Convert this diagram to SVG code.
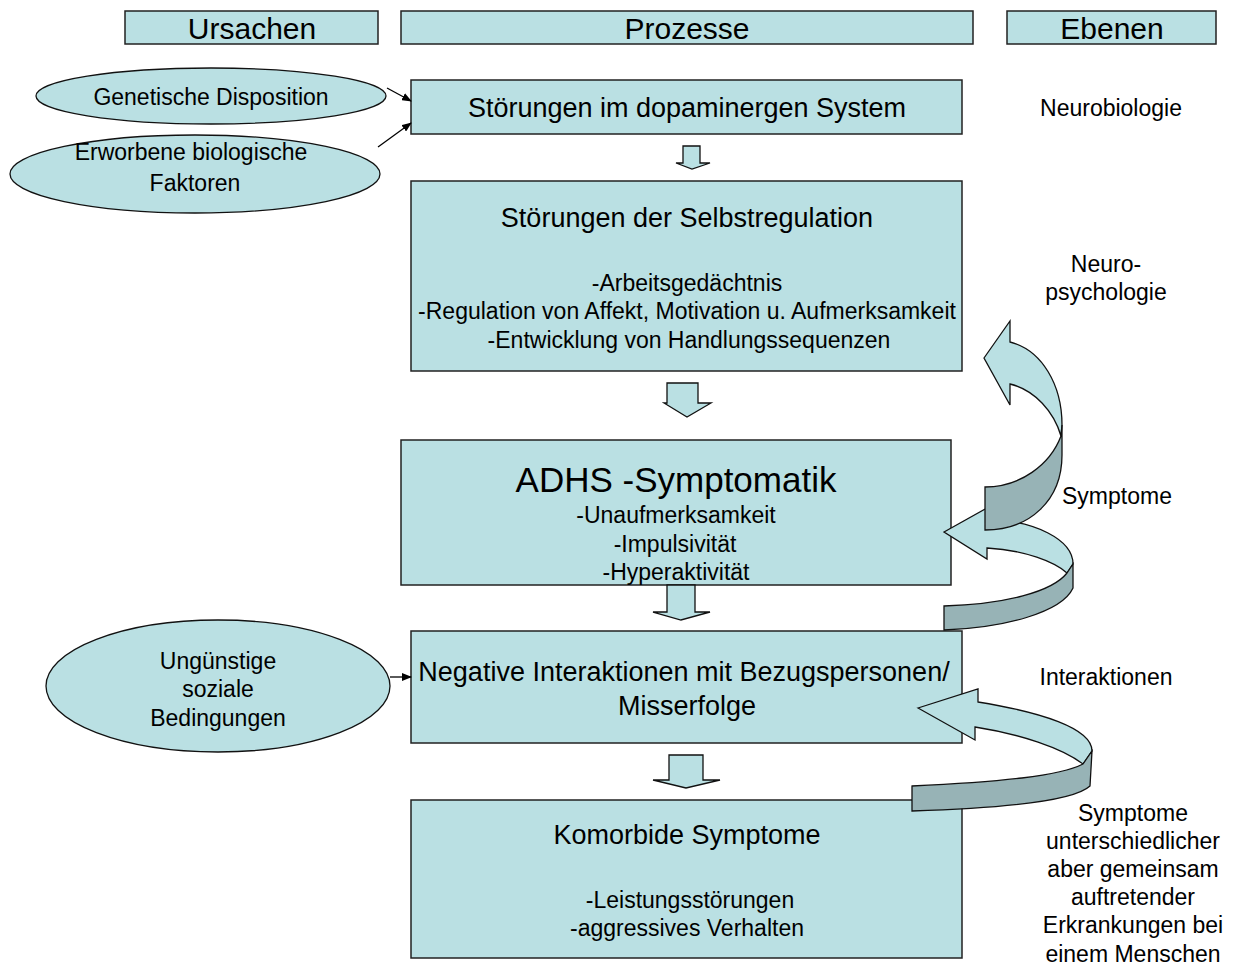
<svg xmlns="http://www.w3.org/2000/svg" width="1238" height="965" viewBox="0 0 1238 965">
<style>
text{font-family:"Liberation Sans",Arial,sans-serif;fill:#000;text-anchor:middle}
.box{fill:#bae0e3;stroke:#222;stroke-width:1.5}
.ell{fill:#bae0e3;stroke:#111;stroke-width:1.3}
.lt{fill:#bae0e3;stroke:#111;stroke-width:1.3;stroke-linejoin:miter}
.dk{fill:#97b3b6;stroke:#111;stroke-width:1.3}
.ln{stroke:#000;stroke-width:1.3;fill:none;marker-end:url(#ah)}
.h{font-size:30px}
.t{font-size:27px}
.b{font-size:23px}
</style>
<defs>
<marker id="ah" markerWidth="10" markerHeight="8" refX="9" refY="4" orient="auto" markerUnits="userSpaceOnUse">
<path d="M0,0 L10,4 L0,8 Z" fill="#000"/>
</marker>
</defs>
<g id="header-ursachen"><rect class="box" x="125" y="11" width="253" height="33"/><text class="h" x="252" y="39">Ursachen</text></g>
<g id="header-prozesse"><rect class="box" x="401" y="11" width="572" height="33"/><text class="h" x="687" y="39">Prozesse</text></g>
<g id="header-ebenen"><rect class="box" x="1007" y="11" width="209" height="33"/><text class="h" x="1112" y="39">Ebenen</text></g>

<g id="ell-genetisch"><ellipse class="ell" cx="211" cy="96" rx="175" ry="28"/><text class="b" x="211" y="105">Genetische Disposition</text></g>
<g id="ell-erworben"><ellipse class="ell" cx="195" cy="174" rx="185" ry="39"/><text class="b" x="191" y="160">Erworbene biologische</text><text class="b" x="195" y="191">Faktoren</text></g>
<g id="ell-sozial"><ellipse class="ell" cx="218" cy="686" rx="172" ry="66"/><text class="b" x="218" y="669">Ungünstige</text><text class="b" x="218" y="697">soziale</text><text class="b" x="218" y="726">Bedingungen</text></g>

<g id="box-dopamin"><rect class="box" x="411" y="80" width="551" height="54"/><text class="t" x="687" y="117">Störungen im dopaminergen System</text></g>
<g id="box-selbst"><rect class="box" x="411" y="181" width="551" height="190"/><text class="t" x="687" y="227">Störungen der Selbstregulation</text><text class="b" x="687" y="291">-Arbeitsgedächtnis</text><text class="b" x="687" y="319">-Regulation von Affekt, Motivation u. Aufmerksamkeit</text><text class="b" x="689" y="348">-Entwicklung von Handlungssequenzen</text></g>
<g id="box-adhs"><rect class="box" x="401" y="440" width="550" height="145"/><text x="676" y="492" style="font-size:35px">ADHS -Symptomatik</text><text class="b" x="676" y="523">-Unaufmerksamkeit</text><text class="b" x="675" y="552">-Impulsivität</text><text class="b" x="676" y="580">-Hyperaktivität</text></g>
<g id="box-interaktion"><rect class="box" x="411" y="631" width="551" height="112"/><text class="t" x="684" y="681">Negative Interaktionen mit Bezugspersonen/</text><text class="t" x="687" y="715">Misserfolge</text></g>
<g id="box-komorbid"><rect class="box" x="411" y="800" width="551" height="158"/><text class="t" x="687" y="844">Komorbide Symptome</text><text class="b" x="690" y="908">-Leistungsstörungen</text><text class="b" x="687" y="936">-aggressives Verhalten</text></g>

<g id="labels">
<text class="b" x="1111" y="116">Neurobiologie</text>
<text class="b" x="1106" y="272">Neuro-</text>
<text class="b" x="1106" y="300">psychologie</text>
<text class="b" x="1117" y="504">Symptome</text>
<text class="b" x="1106" y="685">Interaktionen</text>
<text class="b" x="1133" y="821">Symptome</text>
<text class="b" x="1133" y="849">unterschiedlicher</text>
<text class="b" x="1133" y="877">aber gemeinsam</text>
<text class="b" x="1133" y="905">auftretender</text>
<text class="b" x="1133" y="933">Erkrankungen bei</text>
<text class="b" x="1133" y="962">einem Menschen</text>
</g>

<g id="connectors">
<line class="ln" x1="387" y1="88" x2="411" y2="101"/>
<line class="ln" x1="378" y1="147" x2="411" y2="123"/>
<line class="ln" x1="390" y1="677" x2="411" y2="677"/>
<path class="lt" d="M683,146 L700,146 L700,163 L710,163 L692,169 L676,163 L683,163 Z"/>
<path class="lt" d="M667,383 L698,383 L698,403 L711,403 L687,417 L664,403 L667,403 Z"/>
<path class="lt" d="M667,585 L695,585 L695,612 L710,612 L681,620 L653,612 L667,612 Z"/>
<path class="lt" d="M669,755 L703,755 L703,780 L720,780 L686,788 L653,780 L669,780 Z"/>
<g id="curve-symptome">
<path class="lt" d="M944,532 L987,508 L987,520 C1035,520 1073,540 1073,564 L1067,573 C1055,562 1025,550 987,548 L987,559 Z"/>
<path class="dk" d="M1067,573 L1073,564 L1073,588 C1062,612 1005,628 944,630 L944,606 C1005,604 1052,592 1067,573 Z"/>
</g>
<g id="curve-neuropsych">
<path class="lt" d="M984,358 L1010,321 L1010,342 C1042,350 1062,385 1062,425 L1061,436 C1054,412 1035,390 1010,384 L1010,405 Z"/>
<path class="dk" d="M1061,436 L1062,425 L1062,455 C1062,500 1030,530 985,530 L985,487 C1020,487 1050,465 1061,436 Z"/>
</g>
<g id="curve-interaktion">
<path class="lt" d="M918,708 L978,689 L978,702 C1040,712 1092,728 1092,751 L1083,764 C1062,748 1020,734 975,727 L975,740 Z"/>
<path class="dk" d="M1083,764 L1092,751 L1090,786 C1075,800 1010,808 912,811 L912,786 C1000,782 1060,776 1083,764 Z"/>
</g>
</g>
</svg>
